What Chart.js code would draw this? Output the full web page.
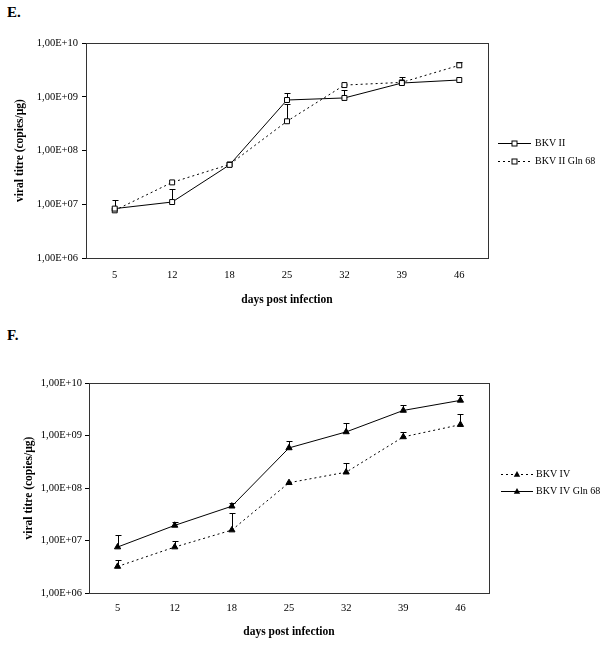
<!DOCTYPE html>
<html>
<head>
<meta charset="utf-8">
<script src="https://cdn.jsdelivr.net/npm/chart.js@4"></script>
<style>
  body { margin: 0; background: #fff; width: 601px; height: 646px; position: relative; overflow: hidden; }
  canvas { position: absolute; left: 0; }
  .tag { position: absolute; left: 7px; font: bold 15px "Liberation Serif", serif; color: #000; }
</style>
</head>
<body>
<div class="tag" style="top:4px">E.</div>
<canvas id="chartE" width="601" height="320" style="top:0"></canvas>
<div class="tag" style="top:327px">F.</div>
<canvas id="chartF" width="601" height="326" style="top:320px"></canvas>

<script>
// categories + ticks
const days = ['5', '12', '18', '25', '32', '39', '46'];
const yTicks = [1e6, 1e7, 1e8, 1e9, 1e10];
const yTickLabels = ['1,00E+06', '1,00E+07', '1,00E+08', '1,00E+09', '1,00E+10'];

// panel E
const bkv2 = [8.3e6, 1.1e7, 5.4e7, 8.7e8, 9.5e8, 1.8e9, 2.05e9];
const bkv2Err = [1.18e7, 1.92e7, null, 1.19e9, 1.33e9, null, null];
const bkv2Gln = [7.7e6, 2.55e7, 5.5e7, 3.5e8, 1.65e9, 1.85e9, 3.85e9];
const bkv2GlnErr = [null, null, null, 7.2e8, null, 2.33e9, 4.4e9];

// panel F
const bkv4 = [3.2e6, 7.5e6, 1.58e7, 1.26e8, 2.0e8, 9.4e8, 1.61e9];
const bkv4Err = [4.3e6, 9.7e6, 3.37e7, null, 2.97e8, 1.15e9, 2.53e9];
const bkv4Gln = [7.5e6, 1.94e7, 4.5e7, 5.8e8, 1.17e9, 3.0e9, 4.67e9];
const bkv4GlnErr = [1.27e7, 2.3e7, 5.07e7, 7.76e8, 1.7e9, 3.75e9, 5.8e9];

const FONT = '"Liberation Serif", "Times New Roman", serif';
const tickFont = { family: FONT, size: 10.5 };
const titleFont = { family: FONT, size: 11.5, weight: 'bold' };

/* error bars, upper only, drawn under the markers */
const errorBars = {
  id: 'errorBars',
  beforeDatasetsDraw(chart) {
    const ctx = chart.ctx;
    const y = chart.scales.y;
    chart.data.datasets.forEach(function(ds, i) {
      const meta = chart.getDatasetMeta(i);
      ds.errTop.forEach(function(v, j) {
        if (v == null) return;
        const p = meta.data[j];
        const x = Math.round(p.x) + 0.5;
        const yt = Math.round(y.getPixelForValue(v)) + 0.5;
        ctx.save();
        ctx.strokeStyle = '#000';
        ctx.lineWidth = 1;
        ctx.beginPath();
        ctx.moveTo(x, p.y);
        ctx.lineTo(x, yt);
        ctx.moveTo(x - 3, yt);
        ctx.lineTo(x + 3, yt);
        ctx.stroke();
        ctx.restore();
      });
    });
  }
};

/* box round the plot area */
const plotBox = {
  id: 'plotBox',
  afterDraw(chart) {
    const a = chart.chartArea;
    const ctx = chart.ctx;
    ctx.save();
    ctx.strokeStyle = '#333';
    ctx.lineWidth = 1;
    ctx.strokeRect(Math.round(a.left) + 0.5, Math.round(a.top) + 0.5,
      Math.round(a.right - a.left), Math.round(a.bottom - a.top));
    ctx.restore();
  }
};

function drawMarker(ctx, style, x, y) {
  ctx.save();
  ctx.lineWidth = 1;
  ctx.strokeStyle = '#000';
  ctx.setLineDash([]);
  if (style === 'rect') {
    ctx.fillStyle = '#fff';
    ctx.fillRect(x - 2.5, y - 2.5, 5, 5);
    ctx.strokeRect(x - 2.5, y - 2.5, 5, 5);
  } else {
    ctx.fillStyle = '#000';
    ctx.beginPath();
    ctx.moveTo(x, y - 3.5);
    ctx.lineTo(x + 3.2, y + 2.2);
    ctx.lineTo(x - 3.2, y + 2.2);
    ctx.closePath();
    ctx.fill();
  }
  ctx.restore();
}

/* legend at the right: line sample + marker + label */
const sideLegend = {
  id: 'sideLegend',
  afterDraw(chart, args, opts) {
    const ctx = chart.ctx;
    chart.data.datasets.forEach(function(ds, i) {
      const y = Math.round(opts.ys[i]) + 0.5;
      ctx.save();
      ctx.strokeStyle = '#000';
      ctx.lineWidth = 1;
      ctx.setLineDash(ds.borderDash || []);
      ctx.beginPath();
      ctx.moveTo(opts.x0, y);
      ctx.lineTo(opts.x1, y);
      ctx.stroke();
      ctx.restore();
      drawMarker(ctx, ds.pointStyle, (opts.x0 + opts.x1) / 2, y);
      ctx.save();
      ctx.fillStyle = '#000';
      ctx.font = '10px ' + FONT;
      ctx.textBaseline = 'middle';
      ctx.fillText(ds.label, opts.tx, y);
      ctx.restore();
    });
  }
};

function series(label, data, err, dashed, style) {
  return {
    label: label,
    data: data,
    errTop: err,
    borderColor: '#000',
    borderWidth: 1,
    borderDash: dashed ? [2, 3] : [],
    pointStyle: style,
    pointRadius: style === 'rect' ? 3.5 : 3.6,
    pointBorderWidth: 1,
    pointBorderColor: '#000',
    pointBackgroundColor: style === 'rect' ? '#fff' : '#000',
    tension: 0,
    fill: false
  };
}

function makeChart(id, datasets, lay) {
  const ctx = document.getElementById(id).getContext('2d');
  return new Chart(ctx, {
    type: 'line',
    data: { labels: days, datasets: datasets },
    options: {
      responsive: false,
      animation: false,
      layout: { padding: { left: 0, top: lay.top, right: lay.right, bottom: lay.bottom } },
      plugins: {
        legend: { display: false },
        tooltip: { enabled: false },
        sideLegend: lay.legend
      },
      scales: {
        x: {
          type: 'category',
          offset: true,
          grid: { display: false, drawTicks: false },
          border: { display: false },
          ticks: { padding: lay.xTickPad, color: '#000', font: tickFont, maxRotation: 0 },
          title: { display: true, text: 'days post infection', color: '#000', font: titleFont,
            padding: { top: 0, bottom: lay.xTitlePad } },
          afterFit: function(s) { s.height = lay.xHeight; }
        },
        y: {
          type: 'logarithmic',
          min: 1e6,
          max: 1e10,
          afterBuildTicks: function(s) { s.ticks = yTicks.map(function(v) { return { value: v }; }); },
          grid: { drawOnChartArea: false, drawTicks: true, tickLength: 4, color: '#000' },
          border: { display: false },
          ticks: { padding: lay.yTickPad, color: '#000', font: tickFont,
            callback: function(v, i) { return yTickLabels[i]; } },
          title: { display: true, text: 'viral titre (copies/µg)', color: '#000', font: titleFont,
            padding: { top: lay.yTitlePad, bottom: 0 } },
          afterFit: function(s) { s.width = lay.yWidth; }
        }
      }
    },
    plugins: [errorBars, plotBox, sideLegend]
  });
}

makeChart('chartE', [
  series('BKV II', bkv2, bkv2Err, false, 'rect'),
  series('BKV II Gln 68', bkv2Gln, bkv2GlnErr, true, 'rect')
], {
  top: 43, right: 113, bottom: 12, xHeight: 50, xTickPad: 11, xTitlePad: 1,
  yWidth: 86, yTickPad: 4, yTitlePad: 13,
  legend: { x0: 498, x1: 531, tx: 535, ys: [143, 161] }
});

makeChart('chartF', [
  series('BKV IV', bkv4, bkv4Err, true, 'triangle'),
  series('BKV IV Gln 68', bkv4Gln, bkv4GlnErr, false, 'triangle')
], {
  top: 63, right: 112, bottom: 7, xHeight: 46, xTickPad: 9, xTitlePad: 0,
  yWidth: 89, yTickPad: 3, yTitlePad: 22,
  legend: { x0: 501, x1: 533, tx: 536, ys: [154, 171] }
});
</script>
</body>
</html>
